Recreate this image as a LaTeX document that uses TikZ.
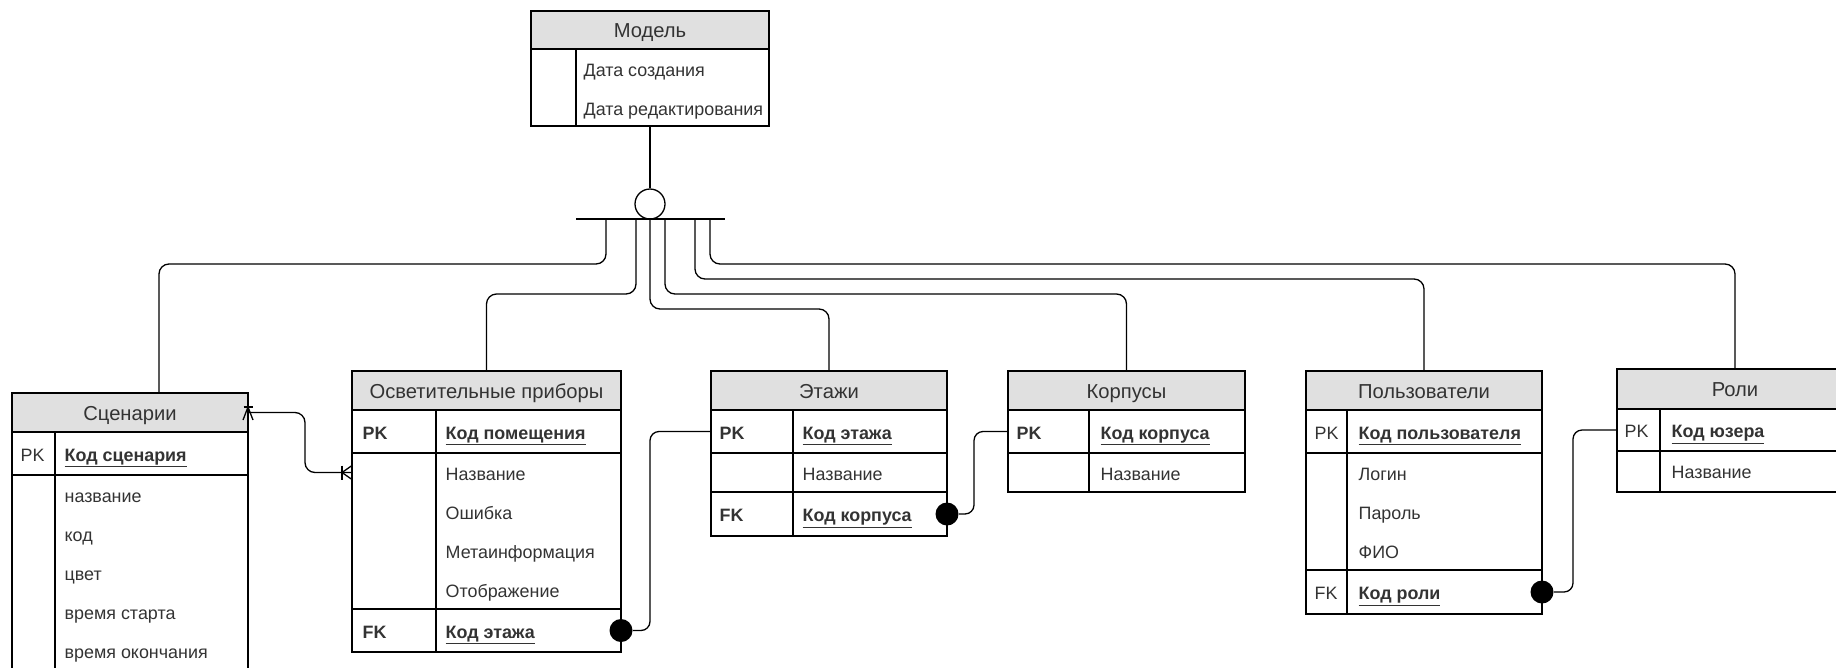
\documentclass[tikz,border=0pt]{standalone}
\usepackage{fontspec}
\setmainfont{Liberation Sans}
\usetikzlibrary{calc}

\definecolor{headgray}{HTML}{E0E0E0}
\definecolor{txt}{HTML}{333333}

\begin{document}
\begin{tikzpicture}[x=1pt, y=-1pt, line width=1.3pt,
    head/.style={draw=black, fill=headgray, minimum height=39pt, inner sep=0pt, outer sep=0pt,
        text height=15.5pt, text depth=0pt, text=txt, font=\fontsize{20.2}{24}\selectfont},
    fld/.style={anchor=west, inner sep=0pt, text height=15.5pt, text depth=0pt, text=txt,
        font=\fontsize{17.9}{21}\selectfont},
    keyf/.style={fld, font=\fontsize{17.9}{21}\selectfont\bfseries},
    link/.style={draw=black, rounded corners=10pt},
    rel/.style={draw=black, rounded corners=9pt},
    dot/.style={circle, fill=black, inner sep=0pt, minimum size=23pt}]

    \useasboundingbox (0,0) rectangle (1836,667);

    % --- Модель and the generalisation
    \node[head, minimum width=238pt, minimum height=38pt] (model) at (650,30) {Модель};
    \draw (531,49) rectangle (769,126);
    \draw (576,49) -- (576,126);
    \node[fld] (model-f1) at (583,68.5) {Дата создания};
    \node[fld] (model-f2) at (583,107.5) {Дата редактирования};
    \coordinate (model-b) at (650,126);

    \node[draw=black, circle, minimum size=30pt, inner sep=0pt] (gen) at (650,204) {};
    \draw (model-b) -- (gen);
    \draw (576,219) -- (725,219);
    \foreach \n/\x in {1/606, 2/636, 3/650, 4/665, 5/695, 6/710}
        \coordinate (b\n) at (\x,219);

    % --- Сценарии
    \node[head, minimum width=236pt] (scen) at (130,412.5) {Сценарии};
    \draw (12,668) |- (248,432) -- (248,668);
    \draw (12,475) -- (248,475);
    \draw (55,432) -- (55,668);
    \node[fld] (scen-pk) at (20,453.5) {PK};
    \node[keyf] (scen-k) at (64,453.5) {\underline{Код сценария}};
    \foreach \t [count=\i from 0] in {название, код, цвет, время старта, время окончания}
        \node[fld] (scen-f\i) at (64,494.5+39*\i) {\t};

    % --- Осветительные приборы
    \node[head, minimum width=269pt] (osv) at (486.5,390.5) {Осветительные приборы};
    \draw (352,410) rectangle (621,652);
    \draw (352,453) -- (621,453);
    \draw (352,609) -- (621,609);
    \draw (436,410) -- (436,652);
    \node[keyf] (osv-pk) at (362,431.5) {PK};
    \node[keyf] (osv-k) at (445,431.5) {\underline{Код помещения}};
    \foreach \t [count=\i from 0] in {Название, Ошибка, Метаинформация, Отображение}
        \node[fld] (osv-f\i) at (445,472.5+39*\i) {\t};
    \node[keyf] (osv-fk) at (362,630.5) {FK};
    \node[keyf] (osv-fkk) at (445,630.5) {\underline{Код этажа}};

    % --- Этажи
    \node[head, minimum width=236pt] (ets) at (829,390.5) {Этажи};
    \draw (711,410) rectangle (947,536);
    \draw (711,453) -- (947,453);
    \draw (711,492) -- (947,492);
    \draw (793,410) -- (793,536);
    \node[keyf] (ets-pk) at (719,431.5) {PK};
    \node[keyf] (ets-k) at (802,431.5) {\underline{Код этажа}};
    \node[fld] (ets-f0) at (802,472.5) {Название};
    \node[keyf] (ets-fk) at (719,514) {FK};
    \node[keyf] (ets-fkk) at (802,514) {\underline{Код корпуса}};

    % --- Корпусы
    \node[head, minimum width=237pt] (korp) at (1126.5,390.5) {Корпусы};
    \draw (1008,410) rectangle (1245,492);
    \draw (1008,453) -- (1245,453);
    \draw (1089,410) -- (1089,492);
    \node[keyf] (korp-pk) at (1016,431.5) {PK};
    \node[keyf] (korp-k) at (1100,431.5) {\underline{Код корпуса}};
    \node[fld] (korp-f0) at (1100,472.5) {Название};

    % --- Пользователи
    \node[head, minimum width=236pt] (polz) at (1424,390.5) {Пользователи};
    \draw (1306,410) rectangle (1542,614);
    \draw (1306,453) -- (1542,453);
    \draw (1306,570) -- (1542,570);
    \draw (1347,410) -- (1347,614);
    \node[fld] (polz-pk) at (1314,431.5) {PK};
    \node[keyf] (polz-k) at (1358,431.5) {\underline{Код пользователя}};
    \foreach \t [count=\i from 0] in {Логин, Пароль, ФИО}
        \node[fld] (polz-f\i) at (1358,472.5+39*\i) {\t};
    \node[fld] (polz-fk) at (1314,592) {FK};
    \node[keyf] (polz-fkk) at (1358,592) {\underline{Код роли}};

    % --- Роли
    \node[head, minimum width=236pt, minimum height=40pt] (roli) at (1735,389) {Роли};
    \draw (1853,409) -| (1617,492) -- (1853,492);
    \draw (1617,451) -- (1853,451);
    \draw (1660,409) -- (1660,492);
    \node[fld] (roli-pk) at (1624,430) {PK};
    \node[keyf] (roli-k) at (1671,430) {\underline{Код юзера}};
    \node[fld] (roli-f0) at (1671,471) {Название};

    % --- links from the generalisation
    \draw[link] (b1) |- (159,264) -- (159,0 |- scen.north);
    \draw[link] (b2) |- (osv.north |- 0,294) -- (osv.north);
    \draw[link] (b3) |- (ets.north |- 0,309) -- (ets.north);
    \draw[link] (b4) |- (korp.north |- 0,294) -- (korp.north);
    \draw[link] (b5) |- (polz.north |- 0,279) -- (polz.north);
    \draw[link] (b6) |- (roli.north |- 0,264) -- (roli.north);

    % --- foreign keys
    \node[dot] (osv-dot) at (621,630.5) {};
    \draw[rel] (osv-dot) -- (650,630.5) |- (ets.west |- ets-pk);
    \node[dot] (ets-dot) at (947,514) {};
    \draw[rel] (ets-dot) -- (974,514) |- (korp.west |- korp-pk);
    \node[dot] (polz-dot) at (1542,592) {};
    \draw[rel] (polz-dot) -- (1573,592) |- (roli.west |- roli-pk);

    % --- Сценарии -- Осветительные приборы
    \draw[link] (scen.east) -| (305,0 |- osv-f0) -- (osv.west |- osv-f0);
    \draw (243.5,407) -- (252.5,407);
    \draw (248,407) -- (243,420) (248,407) -- (253,420) (248,407) -- (248,420);
    \draw (342,465.5) -- (342,479.5);
    \draw (352,465.5) -- (342,472.5) -- (352,479.5);
\end{tikzpicture}
\end{document}
